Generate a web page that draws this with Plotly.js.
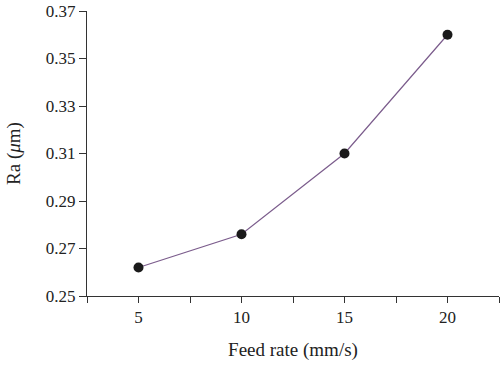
<!DOCTYPE html>
<html>
<head>
<meta charset="utf-8">
<script src="https://cdn.plot.ly/plotly-3.0.1.min.js"></script>
<style>html,body{margin:0;padding:0;background:#fff;}#chart{width:500px;height:366px;}</style>
</head>
<body>
<div id="chart"></div>
<script>
const feedRate = [5, 10, 15, 20];
const ra = [0.262, 0.276, 0.31, 0.36];
const xTickVals = [2.5, 5, 7.5, 10, 12.5, 15, 17.5, 20, 22.5];
const xTickText = ['', '5', '', '10', '', '15', '', '20', ''];
const yTickVals = [0.25, 0.27, 0.29, 0.31, 0.33, 0.35, 0.37];
const yTickText = ['0.25', '0.27', '0.29', '0.31', '0.33', '0.35', '0.37'];

const tickFont = {family: 'Liberation Serif, Times New Roman, serif', size: 17, color: '#222'};
const titleFont = {family: 'Liberation Serif, Times New Roman, serif', size: 19, color: '#222'};

Plotly.newPlot('chart', [{
  x: feedRate,
  y: ra,
  type: 'scatter',
  mode: 'lines+markers',
  line: {color: '#7b5c8c', width: 1.2},
  marker: {color: '#1a1a1a', size: 10},
  cliponaxis: false
}], {
  width: 500, height: 366,
  margin: {l: 87, r: 1, t: 11, b: 70},
  paper_bgcolor: '#fff', plot_bgcolor: '#fff',
  showlegend: false,
  font: tickFont,
  xaxis: {
    range: [2.5, 22.5],
    tickmode: 'array', tickvals: xTickVals, ticktext: xTickText,
    ticks: 'outside', ticklen: 6, tickcolor: '#333', tickwidth: 1,
    showline: true, linecolor: '#333', linewidth: 1,
    showgrid: false, zeroline: false,
    tickfont: tickFont,
    title: {text: 'Feed rate (mm/s)', font: titleFont, standoff: 16}
  },
  yaxis: {
    range: [0.25, 0.37],
    tickmode: 'array', tickvals: yTickVals, ticktext: yTickText,
    ticks: 'outside', ticklen: 7, tickcolor: '#333', tickwidth: 1,
    showline: true, linecolor: '#333', linewidth: 1,
    showgrid: false, zeroline: false,
    tickfont: tickFont,
    title: {text: 'Ra (<i>μ</i>m)', font: titleFont, standoff: 20}
  }
}, {displayModeBar: false, staticPlot: true});
</script>
</body>
</html>
